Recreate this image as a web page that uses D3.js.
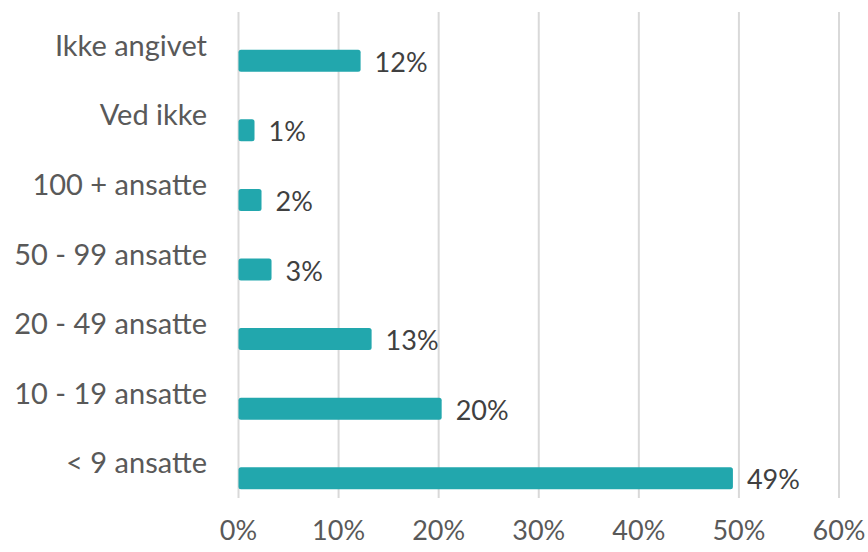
<!DOCTYPE html>
<html>
<head>
<meta charset="utf-8">
<script src="https://cdn.jsdelivr.net/npm/d3@7"></script>
<style>
  body { margin: 0; background: #fff; }
  svg text { font-family: Lato, "Open Sans", sans-serif; }
</style>
</head>
<body>
<div id="chart"></div>
<script>
const categories = ['Ikke angivet', 'Ved ikke', '100 + ansatte', '50 - 99 ansatte', '20 - 49 ansatte', '10 - 19 ansatte', '< 9 ansatte'];
const values = [12.2, 1.6, 2.3, 3.3, 13.3, 20.3, 49.4];
const valueLabels = ['12%', '1%', '2%', '3%', '13%', '20%', '49%'];
const ticks = [0, 10, 20, 30, 40, 50, 60];

const width = 868;
const height = 552;
const barColor = '#22A7AD';

const svg = d3.select('#chart')
  .append('svg')
  .attr('width', width)
  .attr('height', height);

const x = d3.scaleLinear()
  .domain([0, 60])
  .range([238.5, 839]);

const y = d3.scaleBand()
  .domain(categories)
  .range([26, 513])
  .paddingInner(0.684)
  .paddingOuter(0.342);

// gridlines
svg.append('g')
  .selectAll('line')
  .data(ticks)
  .enter()
  .append('line')
  .attr('x1', (d) => x(d))
  .attr('x2', (d) => x(d))
  .attr('y1', 12)
  .attr('y2', 498)
  .attr('stroke', '#d9d9d9')
  .attr('stroke-width', 2);

// x tick labels
svg.append('g')
  .selectAll('text')
  .data(ticks)
  .enter()
  .append('text')
  .attr('x', (d) => x(d))
  .attr('y', 540)
  .attr('text-anchor', 'middle')
  .attr('fill', '#595959')
  .style('font-size', '27px')
  .text((d) => `${d}%`);

const rows = categories.map((c, i) => ({ name: c, value: values[i], label: valueLabels[i] }));

// bars
svg.append('g')
  .selectAll('rect')
  .data(rows)
  .enter()
  .append('rect')
  .attr('x', x(0))
  .attr('y', (d) => y(d.name))
  .attr('width', (d) => x(d.value) - x(0))
  .attr('height', y.bandwidth())
  .attr('rx', 2.5)
  .attr('fill', barColor);

// category labels
svg.append('g')
  .selectAll('text')
  .data(rows)
  .enter()
  .append('text')
  .attr('x', 207)
  .attr('y', (d) => y(d.name) + y.bandwidth() / 2 - 5)
  .attr('text-anchor', 'end')
  .attr('fill', '#595959')
  .style('font-size', '29px')
  .text((d) => d.name);

// value labels
svg.append('g')
  .selectAll('text')
  .data(rows)
  .enter()
  .append('text')
  .attr('x', (d) => x(d.value) + 14)
  .attr('y', (d) => y(d.name) + y.bandwidth() / 2 + 11)
  .attr('fill', '#404040')
  .style('font-size', '27px')
  .text((d) => d.label);
</script>
</body>
</html>
